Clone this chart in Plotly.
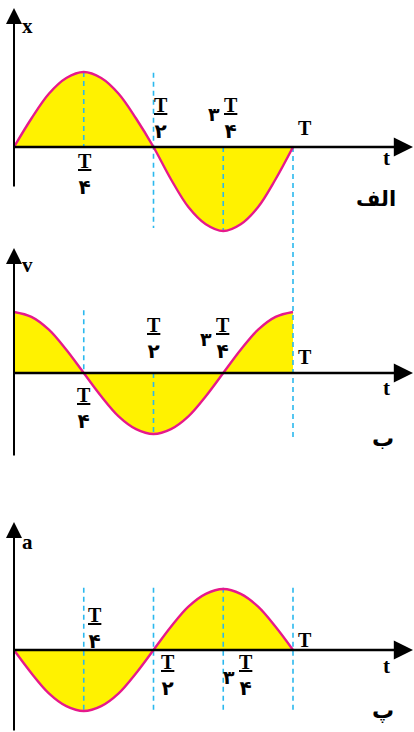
import plotly.graph_objects as go

W, H = 414, 732

# ---------------- data ----------------
t_vals = [0, 0.0625, 0.125, 0.1875, 0.25, 0.3125, 0.375, 0.4375, 0.5,
          0.5625, 0.625, 0.6875, 0.75, 0.8125, 0.875, 0.9375, 1.0]
x_vals = [0, 0.38, 0.71, 0.92, 1.0, 0.92, 0.71, 0.38, 0,
          -0.43, -0.80, -1.03, -1.12, -1.03, -0.80, -0.43, 0]
v_vals = [1.0, 0.92, 0.71, 0.38, 0, -0.38, -0.71, -0.92, -1.0,
          -0.92, -0.71, -0.38, 0, 0.38, 0.71, 0.92, 1.0]
a_vals = [0, -0.38, -0.71, -0.92, -1.0, -0.92, -0.71, -0.38, 0,
          0.38, 0.71, 0.92, 1.0, 0.92, 0.71, 0.38, 0]

quarters = [0.25, 0.5, 0.75, 1.0]
# dashed guide extents per panel (None = no guide)
x_dash_top = [1.0, 0.99, 0, 0]
x_dash_bot = [0, -1.08, -1.12, -1.24]
v_dash_top = [1.03, 0, None, 2.13]
v_dash_bot = [0, -0.98, None, -1.05]
a_dash_top = [1.02, 1.02, 1.02, 1.02]
a_dash_bot = [-1.0, -1.0, -1.0, -1.0]

frac_T4 = "<b><u>T</u></b><br><b>۴</b>"
frac_T2 = "<b><u>T</u></b><br><b>۲</b>"
three = "<b>۳</b>"
panel_names = ["الف", "ب", "پ"]
axis_names = ["x", "v", "a"]

# ---------------- layout geometry (pixels) ----------------
X0, XT = 14, 293          # pixel of t=0 and t=T
def t_of(px):
    return (px - X0) / (XT - X0)

panels = [
    dict(top=0,   bot=240, zero=147, s=75, tip=8,   ybot=188),
    dict(top=240, bot=480, zero=373, s=61, tip=248, ybot=457),
    dict(top=480, bot=732, zero=650, s=61, tip=522, ybot=732),
]
def val(p, py):
    return (p["zero"] - py) / p["s"]

YELLOW = "#FFF200"
MAGENTA = "#E6198C"
BLUE = "#2BB8EE"
FONT = "Liberation Serif, DejaVu Sans, serif"

fig = go.Figure()
series = [x_vals, v_vals, a_vals]
dtops = [x_dash_top, v_dash_top, a_dash_top]
dbots = [x_dash_bot, v_dash_bot, a_dash_bot]
yrefs = ["y", "y2", "y3"]

for i, p in enumerate(panels):
    yr = yrefs[i]
    fig.add_trace(go.Scatter(x=t_vals, y=series[i], mode="lines",
                             line=dict(width=0, shape="spline", color=YELLOW),
                             fill="tozeroy", fillcolor=YELLOW, yaxis=yr,
                             hoverinfo="skip"))
    for q, a, b in zip(quarters, dtops[i], dbots[i]):
        if a is None:
            continue
        fig.add_trace(go.Scatter(x=[q, q], y=[a, b], mode="lines",
                                 line=dict(color=BLUE, width=1.6, dash="5px,4px"),
                                 yaxis=yr, hoverinfo="skip"))
    fig.add_trace(go.Scatter(x=t_vals, y=series[i], mode="lines",
                             line=dict(width=2.4, shape="spline", color=MAGENTA),
                             yaxis=yr, hoverinfo="skip"))

layout_axes = {}
for i, p in enumerate(panels):
    name = "yaxis" if i == 0 else f"yaxis{i+1}"
    ax = dict(domain=[1 - p["bot"] / H, 1 - p["top"] / H],
              range=[val(p, p["bot"]), val(p, p["top"])],
              visible=False, fixedrange=True)
    if i > 0:
        ax["anchor"] = "x"
    layout_axes[name] = ax

annotations = []
for i, p in enumerate(panels):
    yr = yrefs[i]
    annotations.append(dict(x=t_of(413), y=0, ax=t_of(13), ay=0,
                            xref="x", yref=yr, axref="x", ayref=yr,
                            showarrow=True, arrowhead=2, arrowsize=1.6,
                            arrowwidth=2.4, arrowcolor="black", text="",
                            standoff=0, startstandoff=0))
    annotations.append(dict(x=0, y=val(p, p["tip"]), ax=0, ay=val(p, p["ybot"]),
                            xref="x", yref=yr, axref="x", ayref=yr,
                            showarrow=True, arrowhead=2, arrowsize=1.6,
                            arrowwidth=2.0, arrowcolor="black", text="",
                            standoff=0, startstandoff=0))

def lab(text, px, py, size=20):
    annotations.append(dict(text=text, x=px / W, y=1 - py / H,
                            xref="paper", yref="paper", showarrow=False,
                            xanchor="center", yanchor="middle",
                            font=dict(family=FONT, size=size, color="black")))

# panel 1
lab("<b>x</b>", 27, 26, 21)
lab(frac_T4, 85, 174)
lab(frac_T2, 161, 118)
lab(three, 214, 114, 19)
lab(frac_T4, 231, 118)
lab("<b>T</b>", 305, 128)
lab("<b>t</b>", 386, 158, 21)
lab("<b>" + panel_names[0] + "</b>", 376, 199, 21)
# panel 2
lab("<b>v</b>", 27, 265, 21)
lab(frac_T4, 84, 408)
lab(frac_T2, 154, 338)
lab(three, 206, 339, 19)
lab(frac_T4, 223, 338)
lab("<b>T</b>", 305, 357)
lab("<b>t</b>", 386, 388, 21)
lab("<b>" + panel_names[1] + "</b>", 383, 438, 22)
# panel 3
lab("<b>a</b>", 27, 542, 21)
lab(frac_T4, 95, 628)
lab(frac_T2, 168, 675)
lab(three, 229, 677, 19)
lab(frac_T4, 246, 675)
lab("<b>T</b>", 305, 640)
lab("<b>t</b>", 386, 666, 21)
lab("<b>" + panel_names[2] + "</b>", 383, 710, 22)

fig.update_layout(
    width=W, height=H,
    margin=dict(l=0, r=0, t=0, b=0),
    paper_bgcolor="white", plot_bgcolor="white",
    showlegend=False,
    xaxis=dict(range=[t_of(0), t_of(W)], visible=False, fixedrange=True),
    annotations=annotations,
    **layout_axes,
)

fig.write_html("out.html", config={"displayModeBar": False},
               post_script="document.body.style.margin='0px';document.body.style.overflow='hidden';")
